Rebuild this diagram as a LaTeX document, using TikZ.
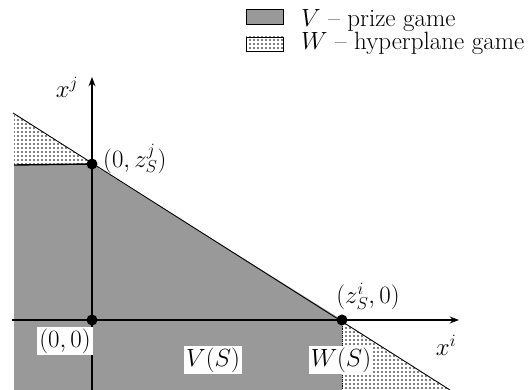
\documentclass[tikz,border=0pt]{standalone}
\usetikzlibrary{arrows.meta,positioning,patterns}

\pgfdeclarepatternformonly{bigdots}{\pgfqpoint{-1pt}{-1pt}}{\pgfqpoint{5pt}{5pt}}{\pgfqpoint{4pt}{4pt}}{%
  \pgfpathcircle{\pgfqpoint{2pt}{2pt}}{0.8pt}\pgfusepath{fill}}

\tikzset{
  vset/.style={fill=black!40},
  wset/.style={pattern=bigdots, pattern color=black},
  dot/.style={circle, fill=black, inner sep=0pt, minimum size=11pt},
  whitelab/.style={fill=white, inner sep=2pt},
}

\begin{document}
\begin{tikzpicture}[x=1pt, y=1pt, >=Stealth, font=\fontsize{25}{25}\selectfont]
  \useasboundingbox (0,0) rectangle (532,390);
  % points
  \coordinate (O)  at (92,70);
  \coordinate (zj) at (92,226);
  \coordinate (zi) at (342,70);
  \coordinate (hl) at (13,277);
  \coordinate (hr) at (450,0);
  % W: everything under the hyperplane, V: the part inside the box
  \fill[wset] (hl) -- (hr) -- (14,0) -- (14,277) -- cycle;
  \fill[vset] (14,225) -- (zj) -- (zi) -- (342,0) -- (14,0) -- cycle;
  \draw[line width=1.4pt] (14,225) -- (zj);
  \draw[line width=0.9pt, densely dotted] (zi) -- (342,0);
  % hyperplane
  \draw[line width=0.9pt] (hl) -- (hr);
  % axes
  \coordinate (xs) at (12,70);
  \coordinate (xe) at (459,70);
  \coordinate (ys) at (92,0);
  \coordinate (ye) at (92,313);
  \draw[->, line width=1.4pt] (xs) -- (xe);
  \draw[->, line width=1.4pt] (ys) -- (ye);
  \node (xi) at (446,45) {$x^i$};
  \node (xj) at (67,303) {$x^j$};
  % marked points
  \node[dot] (pO) at (O) {};
  \node[dot] (pj) at (zj) {};
  \node[dot] (pi) at (zi) {};
  \node[anchor=west, inner sep=0pt] (lj) at (103,231) {$(0,z^j_S)$};
  \node[inner sep=0pt] (li) at (368,94) {$(z^i_S,0)$};
  \node[whitelab] (lO) at (65,49) {$(0,0)$};
  \node[whitelab] (lV) at (213,30) {$V(S)$};
  \node[whitelab] (lW) at (341,30) {$W(S)$};
  % legend
  \draw[vset] (246,366) rectangle (283,381);
  \draw[wset] (246,339) rectangle (283,353);
  \node[anchor=base west, inner sep=0pt] (legV) at (301,363) {$V$ -- prize game};
  \node[anchor=base west, inner sep=0pt] (legW) at (301,340) {$W$ -- hyperplane game};
\end{tikzpicture}
\end{document}
